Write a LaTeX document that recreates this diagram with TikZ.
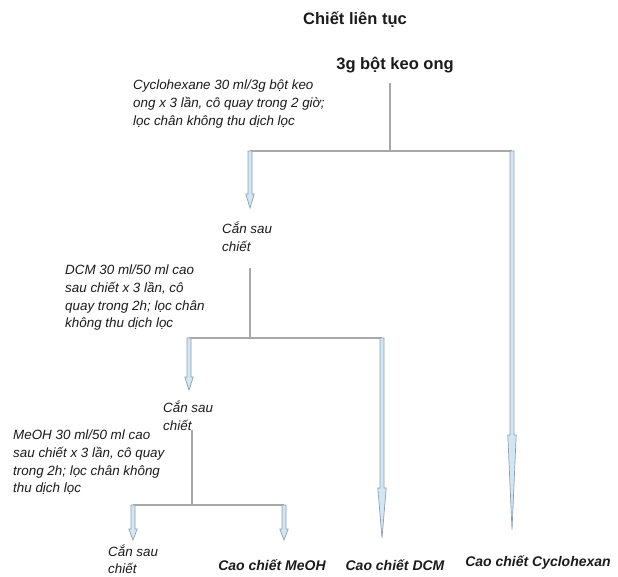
\documentclass[tikz,border=0pt]{standalone}
\usepackage{fontspec}
\setmainfont{Liberation Sans}
\usetikzlibrary{calc}
\definecolor{connc}{HTML}{A8A8A8}
\definecolor{arrline}{HTML}{8FA0AC}
\definecolor{arrfill}{HTML}{D3E6F3}
\definecolor{txt}{HTML}{1A1A1A}
\tikzset{
  conn/.style={draw=connc, line width=1.4pt},
  body/.style={anchor=north west, inner sep=0pt, align=left, text=txt,
    font=\fontsize{13.4}{17.6}\selectfont\itshape},
  ttl/.style={inner sep=0pt, text=txt, font=\fontsize{16.5}{19}\selectfont\bfseries},
  res/.style={inner sep=0pt, text=txt, font=\fontsize{14}{17}\selectfont\bfseries\itshape},
  barr/.style={draw=arrline, fill=arrfill, line width=0.7pt, line join=miter},
}
\newcommand\blockarrow[3]{%
  \path let \p1=(#1), \p2=(#2) in [barr]
    (\x1-2pt,\y1) -- (\x1-2pt,\y2+#3pt) -- (\x1-4.2pt,\y2+#3pt) -- (\x1,\y2)
    -- (\x1+4.2pt,\y2+#3pt) -- (\x1+2pt,\y2+#3pt) -- (\x1+2pt,\y1) -- cycle;}
\begin{document}
\begin{tikzpicture}[x=1pt,y=-1pt]
\useasboundingbox (0,0) rectangle (618,576);
% titles
\node[ttl] (title) at (355,20) {Chiết liên tục};
\node[ttl] (src) at (395,65) {3g bột keo ong};
% texts
\node[body] (cyc) at (133,80) {Cyclohexane 30 ml/3g bột keo\\ong x 3 lần, cô quay trong 2 giờ;\\lọc chân không thu dịch lọc};
\node[body] (can1) at (222,222) {Cắn sau\\chiết};
\node[body] (dcm) at (65,265) {DCM 30 ml/50 ml cao\\sau chiết x 3 lần, cô\\quay trong 2h; lọc chân\\không thu dịch lọc};
\node[body] (can2) at (163,401) {Cắn sau\\chiết};
\node[body] (meoh) at (13,430) {MeOH 30 ml/50 ml cao\\sau chiết x 3 lần, cô quay\\trong 2h; lọc chân không\\thu dịch lọc};
\node[body, font=\fontsize{13.4}{17}\selectfont\itshape] (can3) at (108,545) {Cắn sau\\chiết};
\node[res] (rmeoh) at (272,565) {Cao chiết MeOH};
\node[res] (rdcm) at (395,565) {Cao chiết DCM};
\node[res] (rcyc) at (538,563) {Cao chiết Cyclohexan};
% level 1
\coordinate (v1) at (390,83);  \coordinate (j1) at (390,151);
\coordinate (b1L) at (250,151); \coordinate (b1R) at (512,151);
\coordinate (t1L) at (250,208); \coordinate (t1R) at (512,530);
\draw[conn] (v1) -- (j1);
\draw[conn] (b1L) -- (b1R);
\blockarrow{b1L}{t1L}{14}
\blockarrow{b1R}{t1R}{95}
% level 2
\coordinate (v2) at (250,268);  \coordinate (j2) at (250,338);
\coordinate (b2L) at (189,338); \coordinate (b2R) at (382,338);
\coordinate (t2L) at (189,390); \coordinate (t2R) at (382,538);
\draw[conn] (v2) -- (j2);
\draw[conn] (b2L) -- (b2R);
\blockarrow{b2L}{t2L}{13}
\blockarrow{b2R}{t2R}{50}
% level 3
\coordinate (v3) at (192,430);  \coordinate (j3) at (192,505);
\coordinate (b3L) at (133,505); \coordinate (b3R) at (284,505);
\coordinate (t3L) at (133,540); \coordinate (t3R) at (284,540);
\draw[conn] (v3) -- (j3);
\draw[conn] (b3L) -- (b3R);
\blockarrow{b3L}{t3L}{11}
\blockarrow{b3R}{t3R}{11}
\end{tikzpicture}
\end{document}
